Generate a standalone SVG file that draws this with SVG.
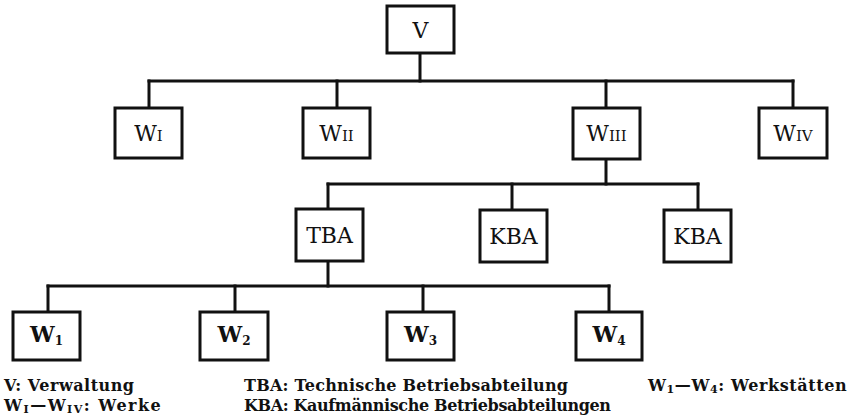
<svg xmlns="http://www.w3.org/2000/svg" width="853" height="419" viewBox="0 0 853 419">
<style>
rect.box{fill:#fff;stroke:#111;stroke-width:3}
#connectors line{stroke:#111;stroke-width:3;stroke-linecap:square}
text{font-family:"DejaVu Serif","Liberation Serif",serif;fill:#111}
.lbl{font-size:22px;text-anchor:middle}
.lblb{font-size:22px;text-anchor:middle;font-weight:bold}
.sc{font-size:15px}
.sub{font-size:12px;font-weight:bold}
.leg{font-size:16px;font-weight:bold}
.legsub{font-size:11px}
</style>
<rect width="853" height="419" fill="#fff"/>
<g id="connectors">
<line x1="420" y1="53" x2="420" y2="81"/>
<line x1="149" y1="81" x2="793" y2="81"/>
<line x1="149" y1="81" x2="149" y2="108"/>
<line x1="337" y1="81" x2="337" y2="108"/>
<line x1="606" y1="81" x2="606" y2="108"/>
<line x1="793" y1="81" x2="793" y2="108"/>
<line x1="606" y1="159" x2="606" y2="184"/>
<line x1="328" y1="184" x2="698" y2="184"/>
<line x1="328" y1="184" x2="328" y2="209"/>
<line x1="512" y1="184" x2="512" y2="210"/>
<line x1="698" y1="184" x2="698" y2="210"/>
<line x1="328" y1="261" x2="328" y2="286"/>
<line x1="48" y1="286" x2="609" y2="286"/>
<line x1="48" y1="286" x2="48" y2="312"/>
<line x1="235" y1="286" x2="235" y2="312"/>
<line x1="423" y1="286" x2="423" y2="312"/>
<line x1="609" y1="286" x2="609" y2="312"/>
</g>
<g id="V"><rect class="box" x="387" y="6" width="67" height="47"/><text class="lbl" x="420.5" y="38">V</text></g>
<g id="WI"><rect class="box" x="115" y="108" width="67" height="50"/><text class="lbl" x="148.5" y="141">W<tspan class="sc">I</tspan></text></g>
<g id="WII"><rect class="box" x="303" y="108" width="67" height="50"/><text class="lbl" x="336.5" y="141">W<tspan class="sc">II</tspan></text></g>
<g id="WIII"><rect class="box" x="573" y="108" width="67" height="51"/><text class="lbl" x="606.5" y="141">W<tspan class="sc">III</tspan></text></g>
<g id="WIV"><rect class="box" x="759" y="108" width="68" height="50"/><text class="lbl" x="793" y="141">W<tspan class="sc">IV</tspan></text></g>
<g id="TBA"><rect class="box" x="296" y="209" width="67" height="52"/><text class="lbl" x="329.5" y="243">TBA</text></g>
<g id="KBA1"><rect class="box" x="480" y="210" width="67" height="52"/><text class="lbl" x="513.5" y="244">KBA</text></g>
<g id="KBA2"><rect class="box" x="664" y="210" width="67" height="52"/><text class="lbl" x="697.5" y="244">KBA</text></g>
<g id="W1"><rect class="box" x="13" y="312" width="67" height="48"/><text class="lblb" x="46.5" y="342">W<tspan class="sub" dy="3">1</tspan></text></g>
<g id="W2"><rect class="box" x="200" y="312" width="68" height="48"/><text class="lblb" x="234" y="342">W<tspan class="sub" dy="3">2</tspan></text></g>
<g id="W3"><rect class="box" x="387" y="312" width="67" height="48"/><text class="lblb" x="420.5" y="342">W<tspan class="sub" dy="3">3</tspan></text></g>
<g id="W4"><rect class="box" x="576" y="312" width="66" height="48"/><text class="lblb" x="609" y="342">W<tspan class="sub" dy="3">4</tspan></text></g>
<g id="legend">
<text class="leg" x="4" y="391" textLength="130" lengthAdjust="spacing">V: Verwaltung</text>
<text class="leg" x="4" y="411" letter-spacing="1.5">W<tspan class="legsub" dy="2">I</tspan><tspan dy="-2">—W</tspan><tspan class="legsub" dy="2">IV</tspan><tspan dy="-2">: Werke</tspan></text>
<text class="leg" x="244" y="391" textLength="324" lengthAdjust="spacing">TBA: Technische Betriebsabteilung</text>
<text class="leg" x="244" y="411" textLength="367" lengthAdjust="spacing">KBA: Kaufmännische Betriebsabteilungen</text>
<text class="leg" x="648" y="391" letter-spacing="0.6">W<tspan class="legsub" dy="2">1</tspan><tspan dy="-2">—W</tspan><tspan class="legsub" dy="2">4</tspan><tspan dy="-2">: Werkstätten</tspan></text>
</g>
</svg>
